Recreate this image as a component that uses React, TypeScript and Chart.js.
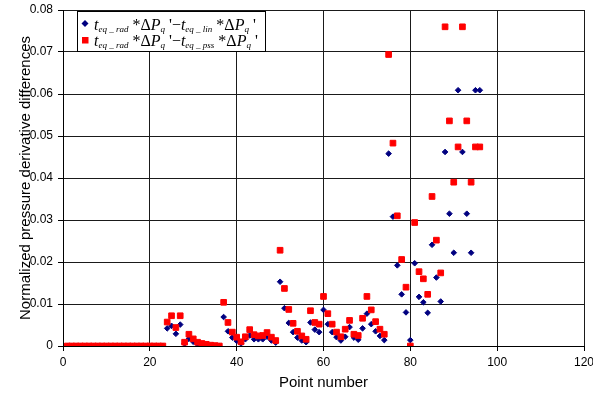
import React, { useEffect, useRef } from 'react';
import { Chart, registerables } from 'chart.js';

Chart.register(...registerables);

// ---- data ----
const pointNumbers = [
  1, 2, 3, 4, 5, 6, 7, 8, 9, 10, 11, 12, 13, 14, 15, 16, 17, 18, 19, 20,
  21, 22, 23, 24, 25, 26, 27, 28, 29, 30, 31, 32, 33, 34, 35, 36, 37, 38, 39, 40,
  41, 42, 43, 44, 45, 46, 47, 48, 49, 50, 51, 52, 53, 54, 55, 56, 57, 58, 59, 60,
  61, 62, 63, 64, 65, 66, 67, 68, 69, 70, 71, 72, 73, 74, 75, 76, 77, 78, 79, 80,
  81, 82, 83, 84, 85, 86, 87, 88, 89, 90, 91, 92, 93, 94, 95, 96,
];

// t_eq_rad*dPq' - t_eq_lin*dPq'
const linDiff = [
  0, 0, 0, 0, 0, 0, 0, 0, 0, 0, 0, 0, 0, 0, 0, 0, 0, 0, 0, 0,
  0, 0, 0, 0.0042, 0.0048, 0.0029, 0.0051, 0.0006, 0.0017, 0.001, 0.0004, 0.0002, 0.0001, 0, 0, 0, 0.0069, 0.0035, 0.002, 0.0012,
  0.0006, 0.0016, 0.0025, 0.0016, 0.0016, 0.0016, 0.0022, 0.0013, 0.0008, 0.0153, 0.009, 0.0055, 0.0033, 0.002, 0.0013, 0.0009, 0.0056, 0.0039, 0.0033, 0.0086,
  0.0052, 0.0033, 0.0021, 0.0013, 0.0022, 0.0045, 0.002, 0.0015, 0.0042, 0.0077, 0.0052, 0.0035, 0.0024, 0.0014, 0.0458, 0.0308, 0.0192, 0.0123, 0.008, 0.0014,
  0.0197, 0.0117, 0.0104, 0.0079, 0.0241, 0.0163, 0.0106, 0.0462, 0.0315, 0.0222, 0.0609, 0.0462, 0.0315, 0.0222, 0.0609, 0.0609,
];

// t_eq_rad*dPq' - t_eq_pss*dPq'
const pssDiff = [
  0, 0, 0, 0, 0, 0, 0, 0, 0, 0, 0, 0, 0, 0, 0, 0, 0, 0, 0, 0,
  0, 0, 0, 0.0057, 0.0072, 0.0044, 0.0072, 0.0009, 0.0028, 0.0017, 0.0009, 0.0006, 0.0004, 0.0002, 0.0001, 0, 0.0104, 0.0056, 0.0033, 0.0021,
  0.001, 0.0022, 0.0039, 0.0027, 0.0024, 0.0025, 0.0032, 0.0021, 0.0013, 0.0228, 0.0137, 0.0087, 0.0054, 0.0035, 0.0024, 0.0016, 0.0084, 0.0056, 0.0052, 0.0118,
  0.0077, 0.0052, 0.0033, 0.0022, 0.004, 0.0061, 0.0028, 0.0025, 0.0066, 0.0118, 0.0086, 0.0058, 0.004, 0.0028, 0.0694, 0.0483, 0.031, 0.0206, 0.014, 0,
  0.0294, 0.0177, 0.016, 0.0123, 0.0356, 0.0252, 0.0174, 0.076, 0.0536, 0.039, 0.0474, 0.076, 0.0536, 0.039, 0.0474, 0.0474,
];

const xTickLabels = ['0', '20', '40', '60', '80', '100', '120'];
const yTickLabels = ['0', '0.01', '0.02', '0.03', '0.04', '0.05', '0.06', '0.07', '0.08'];

const xTitle = 'Point number';
const yTitle = 'Normalized pressure derivative differences';

type Seg = { t: string; kind: 'i' | 'r' | 's' };
const legendRowLin: Seg[] = [
  { t: 't', kind: 'i' }, { t: 'eq _ rad', kind: 's' }, { t: ' *', kind: 'r' }, { t: 'Δ', kind: 'r' },
  { t: 'P', kind: 'i' }, { t: 'q', kind: 's' }, { t: " '", kind: 'r' }, { t: '−', kind: 'r' },
  { t: 't', kind: 'i' }, { t: 'eq _ lin', kind: 's' }, { t: ' *', kind: 'r' }, { t: 'Δ', kind: 'r' },
  { t: 'P', kind: 'i' }, { t: 'q', kind: 's' }, { t: " '", kind: 'r' },
];
const legendRowPss: Seg[] = [
  { t: 't', kind: 'i' }, { t: 'eq _ rad', kind: 's' }, { t: ' *', kind: 'r' }, { t: 'Δ', kind: 'r' },
  { t: 'P', kind: 'i' }, { t: 'q', kind: 's' }, { t: " '", kind: 'r' }, { t: '−', kind: 'r' },
  { t: 't', kind: 'i' }, { t: 'eq _ pss', kind: 's' }, { t: ' *', kind: 'r' }, { t: 'Δ', kind: 'r' },
  { t: 'P', kind: 'i' }, { t: 'q', kind: 's' }, { t: " '", kind: 'r' },
];

const BLUE = '#000080';
const RED = '#FF0000';

const mathLegend = {
  id: 'mathLegend',
  afterDraw(chart: any) {
    const ctx: CanvasRenderingContext2D = chart.ctx;
    ctx.save();
    ctx.fillStyle = '#ffffff';
    ctx.fillRect(77.5, 11.5, 188, 40);
    ctx.strokeStyle = '#000000';
    ctx.lineWidth = 1;
    ctx.strokeRect(77.5, 11.5, 188, 40);

    // markers
    ctx.fillStyle = BLUE;
    ctx.beginPath();
    ctx.moveTo(85, 20);
    ctx.lineTo(88.5, 23.5);
    ctx.lineTo(85, 27);
    ctx.lineTo(81.5, 23.5);
    ctx.closePath();
    ctx.fill();
    ctx.fillStyle = RED;
    ctx.fillRect(82, 37, 6.5, 6.5);

    const fonts = {
      i: 'italic 16px "Liberation Serif", "Times New Roman", serif',
      r: '16px "Liberation Serif", "Times New Roman", serif',
      s: 'italic 9px "Liberation Serif", "Times New Roman", serif',
    };
    const drawRow = (segs: Seg[], x0: number, base: number) => {
      let x = x0;
      ctx.fillStyle = '#000';
      ctx.textBaseline = 'alphabetic';
      ctx.textAlign = 'left';
      for (const s of segs) {
        ctx.font = fonts[s.kind];
        const y = s.kind === 's' ? base + 2.5 : base;
        ctx.fillText(s.t, x, y);
        x += ctx.measureText(s.t).width;
      }
    };
    drawRow(legendRowLin, 94, 29.5);
    drawRow(legendRowPss, 94, 45.5);
    ctx.restore();
  },
};

export default function App() {
  const ref = useRef<HTMLCanvasElement | null>(null);

  useEffect(() => {
    if (!ref.current) return;
    const sans = '"Liberation Sans", Arial, sans-serif';
    const chart = new Chart(ref.current, {
      type: 'scatter',
      data: {
        datasets: [
          {
            label: 'rad - pss',
            data: pointNumbers.map((n, i) => ({ x: n, y: pssDiff[i] })),
            pointStyle: 'rect',
            pointRadius: 4,
            pointBorderWidth: 1,
            backgroundColor: RED,
            borderColor: RED,
            showLine: false,
            order: 1,
          },
          {
            label: 'rad - lin',
            data: pointNumbers.map((n, i) => ({ x: n, y: linDiff[i] })),
            pointStyle: 'rectRot',
            pointRadius: 2.8,
            pointBorderWidth: 1,
            backgroundColor: BLUE,
            borderColor: BLUE,
            showLine: false,
            order: 2,
          },
        ],
      },
      options: {
        responsive: false,
        animation: false,
        layout: { padding: { left: 0, top: 10, right: 9, bottom: 0 } },
        plugins: { legend: { display: false }, tooltip: { enabled: false } },
        scales: {
          x: {
            type: 'linear',
            min: 0,
            max: 120,
            afterFit(scale: any) {
              scale.height = 48;
              scale.paddingLeft = 0;
              scale.paddingRight = 0;
            },
            ticks: {
              stepSize: 20,
              padding: 4,
              color: '#000',
              font: { family: sans, size: 12 },
              maxRotation: 0,
              callback: (_v: any, i: number) => xTickLabels[i],
            },
            grid: { color: '#1a1a1a', lineWidth: 1, tickLength: 5, tickColor: '#000' },
            border: { display: true, color: '#000', width: 1 },
            title: {
              display: true,
              text: xTitle,
              color: '#000',
              font: { family: sans, size: 15 },
              padding: { top: 0, bottom: 2 },
            },
          },
          y: {
            type: 'linear',
            min: 0,
            max: 0.08,
            afterFit(scale: any) {
              scale.width = 63;
              scale.paddingTop = 0;
              scale.paddingBottom = 0;
            },
            ticks: {
              stepSize: 0.01,
              padding: 5,
              color: '#000',
              font: { family: sans, size: 12 },
              callback: (_v: any, i: number) => yTickLabels[i],
            },
            grid: { color: '#1a1a1a', lineWidth: 1, tickLength: 5, tickColor: '#000' },
            border: { display: true, color: '#000', width: 1 },
            title: {
              display: true,
              text: yTitle,
              color: '#000',
              font: { family: sans, size: 15 },
              padding: { top: 17, bottom: 0 },
            },
          },
        },
      },
      plugins: [mathLegend],
    });
    return () => chart.destroy();
  }, []);

  return (
    <div style={{ position: 'absolute', left: 0, top: 0, width: 593, height: 394, background: '#fff' }}>
      <canvas ref={ref} width={593} height={394} />
    </div>
  );
}
